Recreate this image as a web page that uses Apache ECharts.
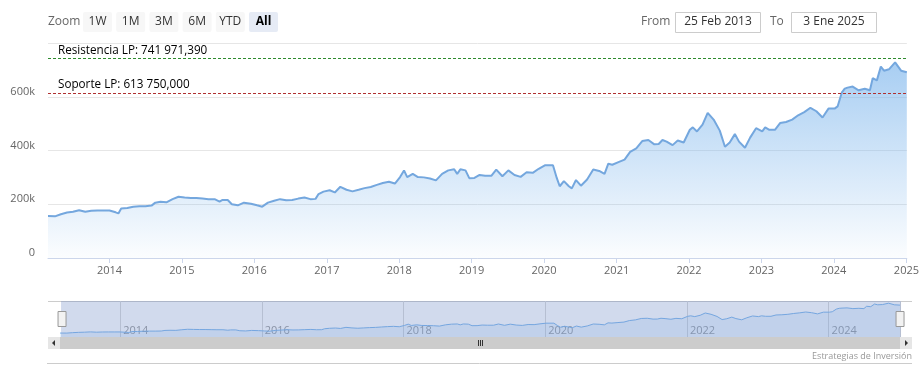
<!DOCTYPE html>
<html>
<head>
<meta charset="UTF-8">
<title>Cotización</title>
<script src="https://cdn.jsdelivr.net/npm/echarts@6/dist/echarts.min.js"></script>
<style>html,body{margin:0;padding:0;background:#fff}</style>
</head>
<body>
<div id="main" style="width:922px;height:378px;"></div>
<script type="text/javascript">
var dates = [
  '2013-02-25','2013-04-01','2013-05-01','2013-06-01','2013-07-01','2013-08-01','2013-09-01','2013-10-01','2013-11-01','2013-12-01',
  '2014-01-01','2014-02-01','2014-02-15','2014-03-01','2014-04-01','2014-05-01','2014-06-01','2014-07-01','2014-08-01','2014-08-20','2014-09-15','2014-10-15','2014-11-15','2014-12-15',
  '2015-01-15','2015-02-15','2015-03-15','2015-04-15','2015-05-15','2015-06-15','2015-07-10','2015-07-25','2015-08-20','2015-09-10','2015-10-10','2015-11-10','2015-12-15',
  '2016-01-15','2016-02-10','2016-03-10','2016-04-10','2016-05-10','2016-06-10','2016-07-10','2016-08-10','2016-09-10','2016-10-10','2016-11-05','2016-11-20','2016-12-15',
  '2017-01-15','2017-02-10','2017-03-10','2017-04-10','2017-05-10','2017-06-10','2017-07-10','2017-08-10','2017-09-10','2017-10-10','2017-11-10','2017-12-10',
  '2018-01-05','2018-01-25','2018-02-10','2018-03-10','2018-04-05','2018-05-05','2018-06-05','2018-07-05','2018-08-05','2018-09-05','2018-10-05','2018-10-20','2018-11-05','2018-12-01','2018-12-20',
  '2019-01-15','2019-02-10','2019-03-10','2019-04-10','2019-05-05','2019-06-05','2019-07-05','2019-08-05','2019-09-05','2019-10-05','2019-11-05','2019-12-05',
  '2020-01-05','2020-02-15','2020-03-05','2020-03-20','2020-04-10','2020-05-05','2020-05-20','2020-06-10','2020-07-05','2020-08-05','2020-09-05','2020-10-05','2020-11-01','2020-11-20','2020-12-10',
  '2021-01-10','2021-02-10','2021-03-10','2021-04-10','2021-05-10','2021-06-10','2021-07-10','2021-08-01','2021-08-20','2021-09-10','2021-10-10','2021-11-05','2021-12-05',
  '2022-01-05','2022-01-20','2022-02-10','2022-03-10','2022-04-05','2022-05-05','2022-06-05','2022-07-01','2022-07-25','2022-08-20','2022-09-10','2022-10-10','2022-11-05','2022-12-05',
  '2023-01-05','2023-01-20','2023-02-10','2023-03-10','2023-04-05','2023-05-05','2023-06-05','2023-07-05','2023-08-05','2023-09-05','2023-10-05','2023-11-05','2023-12-05',
  '2024-01-05','2024-01-20','2024-02-10','2024-02-25','2024-03-10','2024-04-05','2024-05-05','2024-06-05','2024-07-01','2024-07-15','2024-08-05','2024-08-25','2024-09-10','2024-10-05','2024-11-05','2024-12-05',
  '2025-01-03'
];
var prices = [
  156000,155000,163000,169000,172000,178000,172000,176000,177000,177000,
  177000,170000,166000,184000,186000,191000,193000,193000,195000,206000,209000,207000,219000,228000,
  225000,223000,223000,221000,219000,219000,210000,216000,216000,200000,196000,206000,202000,
  196000,191000,206000,213000,219000,215000,216000,221000,225000,219000,220000,238000,247000,
  252000,244000,265000,254000,248000,254000,260000,264000,272000,279000,284000,277000,
  301000,326000,301000,313000,301000,300000,296000,289000,313000,326000,330000,313000,330000,326000,297000,
  298000,309000,306000,306000,329000,304000,326000,309000,302000,319000,317000,332000,
  345000,345000,298000,267000,286000,267000,259000,290000,269000,292000,329000,324000,313000,351000,347000,
  357000,366000,395000,408000,435000,439000,423000,424000,439000,433000,420000,437000,430000,
  477000,486000,471000,496000,540000,515000,474000,414000,430000,461000,433000,410000,448000,483000,
  471000,486000,477000,477000,502000,506000,515000,531000,543000,559000,546000,523000,556000,
  556000,564000,615000,630000,634000,638000,624000,630000,624000,669000,661000,712000,697000,702000,728000,697000,
  691000
];
var resistencia = 741971.39;
var soporte = 613750;
var resistenciaLabel = 'Resistencia LP: 741 971,390';
var soporteLabel = 'Soporte LP: 613 750,000';
var zoomButtons = ['1W', '1M', '3M', '6M', 'YTD', 'All'];
var fromText = '25 Feb 2013';
var toText = '3 Ene 2025';
var credit = 'Estrategias de Inversión';

var FONT = 'Open Sans';
var seriesData = dates.map(function (d, i) { return [d, prices[i]]; });

function yearOnly(value) {
  var d = new Date(value);
  if (d.getMonth() === 0 && d.getDate() === 1) return String(d.getFullYear());
  return '';
}
function evenYear(value) {
  var s = yearOnly(value);
  return s && (+s % 2 === 0) && +s < 2025 ? s : '';
}

var graphics = [];
graphics.push({ type: 'text', x: 48, y: 22, style: { text: 'Zoom', fill: '#666', font: '12px ' + FONT, verticalAlign: 'middle' } });
zoomButtons.forEach(function (b, i) {
  var sel = b === 'All';
  graphics.push({
    type: 'rect', shape: { x: 83 + i * 33.2, y: 12, width: 29, height: 20, r: 2 },
    style: { fill: sel ? '#e6ebf5' : '#f7f7f7' }
  });
  graphics.push({
    type: 'text', x: 83 + i * 33.2 + 14.5, y: 22,
    style: { text: b, fill: sel ? '#000' : '#333', font: (sel ? 'bold ' : '') + '12px ' + FONT, align: 'center', verticalAlign: 'middle' }
  });
});
graphics.push({ type: 'text', x: 641, y: 22, style: { text: 'From', fill: '#666', font: '12px ' + FONT, verticalAlign: 'middle' } });
graphics.push({ type: 'rect', shape: { x: 675.5, y: 12.5, width: 85, height: 20 }, style: { fill: '#fff', stroke: '#ccc', lineWidth: 1 } });
graphics.push({ type: 'text', x: 718, y: 22, style: { text: fromText, fill: '#333', font: '12px ' + FONT, align: 'center', verticalAlign: 'middle' } });
graphics.push({ type: 'text', x: 770, y: 22, style: { text: 'To', fill: '#666', font: '12px ' + FONT, verticalAlign: 'middle' } });
graphics.push({ type: 'rect', shape: { x: 791.5, y: 12.5, width: 85, height: 20 }, style: { fill: '#fff', stroke: '#ccc', lineWidth: 1 } });
graphics.push({ type: 'text', x: 834, y: 22, style: { text: toText, fill: '#333', font: '12px ' + FONT, align: 'center', verticalAlign: 'middle' } });

// navigator outline + scrollbar
graphics.push({ type: 'line', shape: { x1: 48, y1: 301.5, x2: 912, y2: 301.5 }, style: { stroke: '#cccccc', lineWidth: 1 } });
graphics.push({ type: 'rect', shape: { x: 48, y: 337, width: 864, height: 12 }, style: { fill: '#f2f2f2' } });
graphics.push({ type: 'rect', shape: { x: 60, y: 337, width: 840, height: 12 }, style: { fill: '#cccccc' } });
graphics.push({ type: 'rect', shape: { x: 48, y: 337, width: 12, height: 12 }, style: { fill: '#e6e6e6' } });
graphics.push({ type: 'rect', shape: { x: 900, y: 337, width: 12, height: 12 }, style: { fill: '#e6e6e6' } });
graphics.push({ type: 'polygon', shape: { points: [[55, 340], [55, 346], [52, 343]] }, style: { fill: '#333' } });
graphics.push({ type: 'polygon', shape: { points: [[905, 340], [905, 346], [908, 343]] }, style: { fill: '#333' } });
[478, 480, 482].forEach(function (x) {
  graphics.push({ type: 'line', shape: { x1: x + 0.5, y1: 340, x2: x + 0.5, y2: 346 }, style: { stroke: '#333', lineWidth: 1 } });
});
graphics.push({ type: 'line', shape: { x1: 47, y1: 363.5, x2: 912, y2: 363.5 }, style: { stroke: '#cccccc', lineWidth: 1 } });
graphics.push({ type: 'text', x: 912, y: 356, style: { text: credit, fill: '#999', font: '9px ' + FONT, align: 'right', verticalAlign: 'middle' } });

var chart = echarts.init(document.getElementById('main'), null, { renderer: 'canvas' });
chart.setOption({
  animation: false,
  backgroundColor: '#fff',
  textStyle: { fontFamily: FONT },
  grid: [
    { left: 48, right: 10, top: 43, height: 215 },
    { left: 60, right: 22, top: 301, height: 36 }
  ],
  xAxis: [
    {
      type: 'time', gridIndex: 0, min: dates[0], max: dates[dates.length - 1], splitNumber: 12,
      axisLine: { lineStyle: { color: '#ccd6eb' } },
      axisTick: { show: true, length: 5, lineStyle: { color: '#ccd6eb' } },
      axisLabel: { formatter: yearOnly, color: '#666', fontSize: 11, margin: 7, hideOverlap: false },
      splitLine: { show: false }
    },
    {
      type: 'time', gridIndex: 1, min: dates[0], max: dates[dates.length - 1], splitNumber: 12,
      axisLine: { show: false }, axisTick: { show: false },
      axisLabel: { formatter: evenYear, color: '#999', fontSize: 11, inside: true, align: 'left', padding: [0, 0, 0, 3], margin: 1 },
      splitLine: { show: true, lineStyle: { color: ['rgba(0,0,0,0)', '#d9d9d9'] } }
    }
  ],
  yAxis: [
    {
      type: 'value', gridIndex: 0, min: 0, max: 800000, interval: 200000,
      axisLine: { show: false }, axisTick: { show: false },
      axisLabel: {
        color: '#666', fontSize: 11, margin: 13, verticalAlign: 'bottom', lineHeight: 10, showMaxLabel: false,
        formatter: function (v) { return v === 0 ? '0' : (v / 1000) + 'k'; }
      },
      splitLine: { lineStyle: { color: '#e6e6e6' } }
    },
    { type: 'value', gridIndex: 1, min: 80000, max: 770000, show: false, splitLine: { show: false } }
  ],
  dataZoom: [{
    type: 'slider', xAxisIndex: 0, filterMode: 'none', start: 0, end: 100,
    left: 60, right: 22, top: 301, height: 36,
    backgroundColor: 'transparent', borderColor: 'transparent',
    fillerColor: 'rgba(102,133,194,0.3)',
    showDataShadow: false, showDetail: false, brushSelect: false, moveHandleSize: 0,
    handleIcon: 'path://M0,0H8V15H0Z', handleSize: 15,
    handleStyle: { color: '#f2f2f2', borderColor: '#999', borderWidth: 1 },
    emphasis: { handleStyle: { color: '#f2f2f2', borderColor: '#999' } }
  }],
  series: [
    {
      type: 'line', xAxisIndex: 0, yAxisIndex: 0, data: seriesData, showSymbol: false, symbol: 'none',
      lineStyle: { color: '#74a7de', width: 2 },
      areaStyle: {
        color: new echarts.graphic.LinearGradient(0, 0, 0, 1, [
          { offset: 0, color: 'rgba(124,181,236,0.95)' },
          { offset: 1, color: 'rgba(124,181,236,0.04)' }
        ])
      },
      markLine: {
        silent: true, symbol: 'none',
        data: [
          { yAxis: resistencia, lineStyle: { color: '#2e8b2e', type: [3, 2], width: 1 },
            label: { formatter: resistenciaLabel } },
          { yAxis: soporte, lineStyle: { color: '#b03030', type: [3, 2], width: 1 },
            label: { formatter: soporteLabel } }
        ],
        label: { position: 'insideStartTop', color: '#000', fontSize: 11.7, fontFamily: FONT, distance: [10, 2] }
      }
    },
    {
      type: 'line', xAxisIndex: 1, yAxisIndex: 1, data: seriesData, showSymbol: false, symbol: 'none', silent: true,
      lineStyle: { color: '#7cb5ec', width: 1 },
      areaStyle: { color: 'rgba(124,181,236,0.25)' }
    }
  ],
  graphic: graphics
});
</script>
</body>
</html>
